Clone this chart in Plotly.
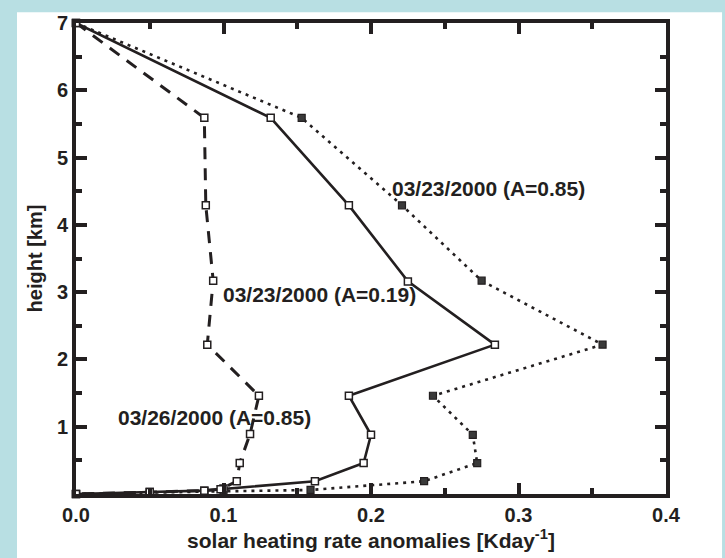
import plotly.graph_objects as go

# Height levels [km] and solar heating rate anomalies [K/day] per case
h_023_019 = [7.0, 5.59, 4.29, 3.16, 2.22, 1.46, 0.88, 0.46, 0.19, 0.08, 0.05, 0.03, 0.0]
q_023_019 = [0.0, 0.132, 0.185, 0.225, 0.284, 0.185, 0.200, 0.195, 0.162, 0.100, 0.087, 0.050, 0.0]

h_026_085 = [7.0, 5.59, 4.29, 3.17, 2.22, 1.46, 0.89, 0.46, 0.19, 0.07, 0.05, 0.03, 0.0]
q_026_085 = [0.0, 0.087, 0.088, 0.093, 0.089, 0.124, 0.118, 0.111, 0.109, 0.098, 0.087, 0.050, 0.0]

h_023_085 = [7.0, 5.59, 4.29, 3.17, 2.22, 1.46, 0.88, 0.46, 0.19, 0.06, 0.04, 0.0]
q_023_085 = [0.0, 0.153, 0.221, 0.275, 0.357, 0.242, 0.269, 0.272, 0.236, 0.159, 0.100, 0.0]

x_ticks = [0.0, 0.1, 0.2, 0.3, 0.4]
x_ticklabels = ["0.0", "0.1", "0.2", "0.3", "0.4"]
y_ticks = [1, 2, 3, 4, 5, 6, 7]

labels = ["03/23/2000 (A=0.85)", "03/23/2000 (A=0.19)", "03/26/2000 (A=0.85)"]
label_x = [0.215, 0.100, 0.029]
label_y = [4.54, 2.97, 1.13]

INK = "#231f20"
FONT = "Liberation Sans, Arial, sans-serif"

fig = go.Figure()

fig.add_trace(go.Scatter(
    x=q_023_085, y=h_023_085, mode="lines+markers",
    line=dict(color=INK, width=2.6, dash="3px,5px"),
    marker=dict(symbol="square", size=7, color="#3a3a3a",
                line=dict(color=INK, width=1.2)),
    showlegend=False, cliponaxis=False))

fig.add_trace(go.Scatter(
    x=q_023_019, y=h_023_019, mode="lines+markers",
    line=dict(color=INK, width=2.6),
    marker=dict(symbol="square", size=7, color="white",
                line=dict(color=INK, width=1.5)),
    showlegend=False, cliponaxis=False))

fig.add_trace(go.Scatter(
    x=q_026_085, y=h_026_085, mode="lines+markers",
    line=dict(color=INK, width=3, dash="12px,9px"),
    marker=dict(symbol="square", size=7, color="white",
                line=dict(color=INK, width=1.5)),
    showlegend=False, cliponaxis=False))

for txt, lx, ly in zip(labels, label_x, label_y):
    fig.add_annotation(x=lx, y=ly, text=txt, showarrow=False,
                       xanchor="left", yanchor="middle", xshift=-3,
                       font=dict(family=FONT, size=21, color=INK, weight="bold"))

# white panel sitting on the light-blue page
fig.add_shape(type="rect", xref="paper", yref="paper",
              x0=-0.1, x1=1.095, y0=-0.2, y1=1.023,
              fillcolor="white", line=dict(width=0), layer="below")

axis_common = dict(
    showline=True, linewidth=4, linecolor=INK, mirror="allticks",
    ticks="inside", ticklen=11, tickwidth=4, tickcolor=INK,
    showgrid=False, zeroline=False,
    tickfont=dict(family=FONT, size=20, color=INK, weight="bold"),
)

fig.update_xaxes(
    range=[0, 0.4], tickvals=x_ticks, ticktext=x_ticklabels,
    minor=dict(ticks="inside", ticklen=6, tickwidth=4, tickcolor=INK, dtick=0.05,
               showgrid=False),
    title=dict(text="solar heating rate anomalies [Kday<sup>-1</sup>]",
               font=dict(family=FONT, size=21, color=INK, weight="bold"), standoff=3),
    **axis_common)

fig.update_yaxes(
    range=[0, 7], tickvals=y_ticks,
    minor=dict(ticks="inside", ticklen=6, tickwidth=4, tickcolor=INK, dtick=0.5,
               showgrid=False),
    title=dict(text="height [km]",
               font=dict(family=FONT, size=20, color=INK, weight="bold"),
               standoff=10),
    **axis_common)

fig.update_layout(
    width=725, height=558,
    margin=dict(l=76, r=59, t=16, b=64),
    paper_bgcolor="#b8dfe3",
    plot_bgcolor="white",
    font=dict(family=FONT, color=INK),
)

fig.write_html("out.html")
